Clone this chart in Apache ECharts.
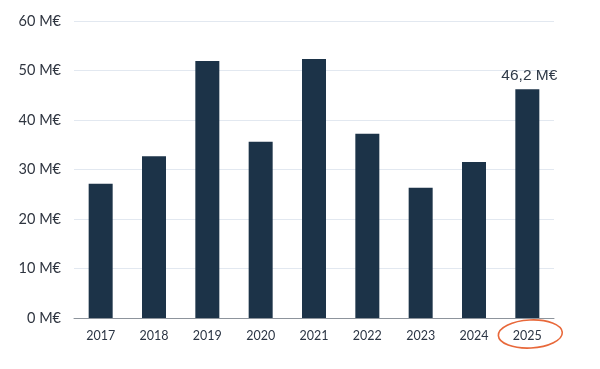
<!DOCTYPE html>
<html><head><meta charset="utf-8">
<script src="https://cdn.jsdelivr.net/npm/echarts@6/dist/echarts.min.js"></script>
<style>html,body{margin:0;padding:0;background:#fff}#c{width:600px;height:369px}</style>
</head><body><div id="c"></div>
<script>
var categories = ['2017','2018','2019','2020','2021','2022','2023','2024','2025'];
var values = [27.1, 32.7, 51.9, 35.6, 52.3, 37.2, 26.3, 31.5, 46.2];
var yTicks = [0, 10, 20, 30, 40, 50, 60];
var highlightLabel = '46,2 M€';
var highlightCategory = '2025';

var chart = echarts.init(document.getElementById('c'), null, {renderer:'canvas'});
chart.setOption({
  animation: false,
  grid: {left: 74, right: 46, top: 21, bottom: 51},
  xAxis: {
    type: 'category', data: categories,
    axisLine: {lineStyle: {color: '#8d949c', width: 1}},
    axisTick: {show: false},
    axisLabel: {color: '#2b3544', fontSize: 12.5, fontFamily: 'Lato', margin: 11}
  },
  yAxis: {
    type: 'value', min: yTicks[0], max: yTicks[yTicks.length-1], interval: 10,
    axisLine: {show: false}, axisTick: {show: false},
    splitLine: {lineStyle: {color: '#e2e8f0', width: 1}},
    axisLabel: {color: '#2f3540', fontSize: 14.5, fontFamily: 'Lato', margin: 13,
      formatter: function(v){return v + ' M€';}}
  },
  series: [{
    type: 'bar', data: values.map(function(v, i){
      return categories[i] === highlightCategory ? {value: v, label: {show: true}} : v;
    }),
    barWidth: '45%',
    itemStyle: {color: '#1c3348'},
    label: {show: false, position: 'top', distance: 6, offset: [2, 0], color: '#2f3a48', fontSize: 15.5, fontFamily: 'Liberation Sans',
      formatter: function(){return highlightLabel;}}
  }]
});
var cx = chart.convertToPixel({xAxisIndex: 0}, highlightCategory);
var cy = chart.convertToPixel({yAxisIndex: 0}, 0);
chart.setOption({graphic: [{
  type: 'ellipse', shape: {cx: cx + 3, cy: cy + 16, rx: 32, ry: 14}, rotation: 0.05, originX: cx + 3, originY: cy + 16,
  style: {fill: 'none', stroke: '#e8683a', lineWidth: 1.6}
}]});
</script></body></html>
